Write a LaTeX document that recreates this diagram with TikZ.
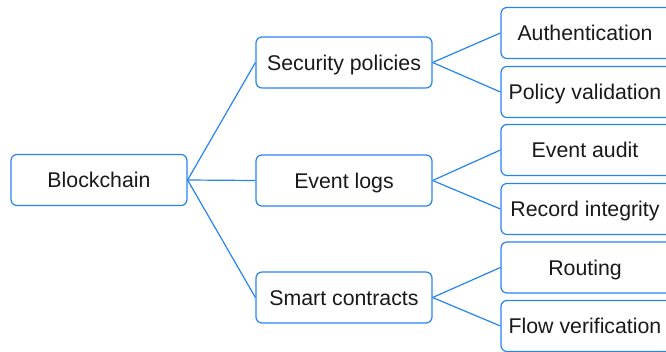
\documentclass[tikz,border=0pt]{standalone}
\usepackage{fontspec}
\setmainfont{Liberation Sans}
\definecolor{edgeblue}{RGB}{38,132,240}
\newcommand{\leaftext}[1]{\makebox[190pt][l]{\makebox[168pt]{#1}}}
\begin{document}
\begin{tikzpicture}[x=1pt,y=-1pt,
  box/.style={draw=edgeblue,line width=1.2pt,rounded corners=6pt,minimum width=176pt,minimum height=51pt,inner sep=0pt,text height=15pt,text depth=0pt,font=\fontsize{21.3}{25}\selectfont,text=black!90},
  leaf/.style={box,minimum width=190pt},
  link/.style={draw=edgeblue,line width=1.2pt}]
\useasboundingbox (0,0) rectangle (666,351);
\clip (0,0) rectangle (666,351);
\node[box] (root) at (99,180) {Blockchain};
\node[box] (sec) at (344,62.5) {Security policies};
\node[box] (evt) at (344,180.5) {Event logs};
\node[box] (sc) at (344,297.5) {Smart contracts};
\node[leaf] (auth) at (596,33) {\leaftext{Authentication}};
\node[leaf] (pv) at (596,92) {\leaftext{Policy validation}};
\node[leaf] (ea) at (596,150) {\leaftext{Event audit}};
\node[leaf] (ri) at (596,209) {\leaftext{Record integrity}};
\node[leaf] (rt) at (596,267.5) {\leaftext{Routing}};
\node[leaf] (fv) at (596,326) {\leaftext{Flow verification}};
\foreach \c in {sec,evt,sc} \draw[link] (root.east) -- (\c.west);
\draw[link] (sec.east) -- (auth.west);
\draw[link] (sec.east) -- (pv.west);
\draw[link] (evt.east) -- (ea.west);
\draw[link] (evt.east) -- (ri.west);
\draw[link] (sc.east) -- (rt.west);
\draw[link] (sc.east) -- (fv.west);
\end{tikzpicture}
\end{document}
